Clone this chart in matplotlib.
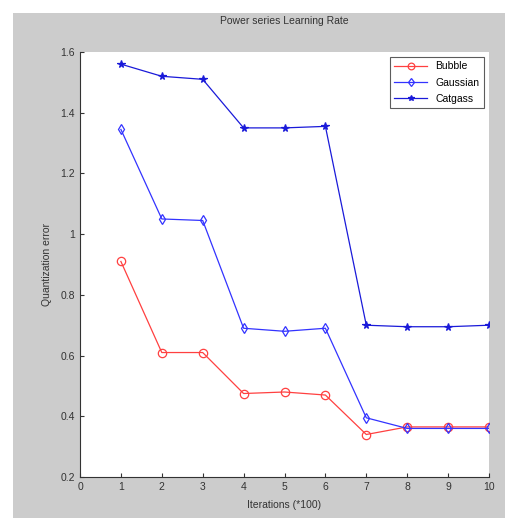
import matplotlib.pyplot as plt
from matplotlib.patches import Rectangle

# Dades llegides del gràfic
iteracions = [1, 2, 3, 4, 5, 6, 7, 8, 9, 10]
bubble = [0.91, 0.61, 0.61, 0.475, 0.48, 0.47, 0.34, 0.365, 0.365, 0.365]
gaussian = [1.345, 1.05, 1.045, 0.69, 0.68, 0.69, 0.395, 0.36, 0.36, 0.36]
catgass = [1.56, 1.52, 1.51, 1.35, 1.35, 1.355, 0.70, 0.695, 0.695, 0.70]

plt.rcParams['font.family'] = ['Liberation Sans', 'DejaVu Sans']

fig = plt.figure(figsize=(5.15, 5.18), dpi=100)
fig.patch.set_facecolor('white')
# fons gris estil MATLAB
fig.patches.append(Rectangle((13/515, 0), 492/515, 1 - 13/518, transform=fig.transFigure,
                             facecolor='#cccccc', edgecolor='none', zorder=-1))

ax = fig.add_axes([80/515, 1 - 477/518, 409/515, 425/518])
ax.set_facecolor('white')

ax.plot(iteracions, bubble, color='#ff4040', lw=0.9, marker='o', ms=6, mfc='none', mew=0.9, label='Bubble')
ax.plot(iteracions, gaussian, color='#3333ff', lw=0.9, marker='d', ms=5.5, mfc='none', mew=0.9, label='Gaussian')
ax.plot(iteracions, catgass, color='#1a1ad9', lw=0.9, marker='*', ms=5.5, mew=0.9, label='Catgass')

ax.set_xlim(0, 10)
ax.set_ylim(0.2, 1.6)
ax.set_xticks(range(0, 11))
ax.set_yticks([0.2, 0.4, 0.6, 0.8, 1.0, 1.2, 1.4, 1.6])
ax.set_yticklabels(['0.2', '0.4', '0.6', '0.8', '1', '1.2', '1.4', '1.6'])
ax.tick_params(direction='in', labelsize=7.5, length=3, colors='#333333', width=0.8)
for s in ['top', 'right']:
    ax.spines[s].set_visible(False)
for s in ['left', 'bottom']:
    ax.spines[s].set_color('#333333')

ax.set_title('Power series Learning Rate', fontsize=7.5, color='#333333', pad=20)
ax.set_xlabel('Iterations (*100)', fontsize=7.5, color='#333333', labelpad=6)
ax.set_ylabel('Quantization error', fontsize=7.5, color='#333333', labelpad=6)

leg = ax.legend(loc='upper right', fontsize=7.5, frameon=True, fancybox=False,
                edgecolor='#333333', borderaxespad=0.5, handlelength=3.2,
                labelspacing=0.6, markerscale=0.8)
leg.get_frame().set_linewidth(0.8)

plt.savefig('out.png', dpi=100)
